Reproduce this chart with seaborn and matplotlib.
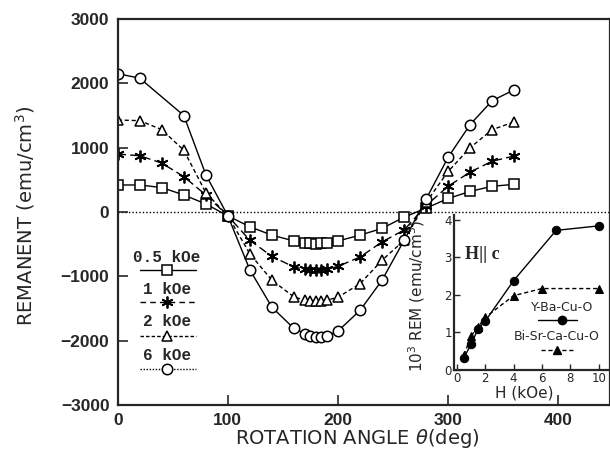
import numpy as np
import pandas as pd
import matplotlib
matplotlib.use("Agg")
import matplotlib.pyplot as plt
import seaborn as sns

# ---------------- data ----------------
angle = [0, 20, 40, 60, 80, 100, 120, 140, 160, 170, 175, 180, 185, 190,
         200, 220, 240, 260, 280, 300, 320, 340, 360]
rem_05 = [420, 420, 380, 265, 125, -60, -230, -360, -450, -480, -485, -490,
          -485, -480, -450, -360, -255, -80, 60, 210, 320, 400, 430]
rem_1 = [900, 875, 760, 550, 265, -60, -440, -690, -855, -890, -900, -905,
         -900, -890, -845, -700, -465, -280, 100, 400, 620, 790, 870]
rem_2 = [1430, 1420, 1280, 960, 300, -60, -650, -1060, -1320, -1370, -1380,
         -1385, -1380, -1370, -1325, -1115, -750, -440, 150, 630, 1000, 1280, 1400]
angle_6 = [0, 20, 60, 80, 100, 120, 140, 160, 170, 175, 180, 185, 190,
           200, 220, 240, 260, 280, 300, 320, 340, 360]
rem_6 = [2150, 2080, 1500, 580, -60, -900, -1480, -1810, -1890, -1930, -1940,
         -1940, -1930, -1850, -1530, -1060, -440, 200, 850, 1360, 1730, 1900]

field_labels = ["0.5 kOe", "1 kOe", "2 kOe", "6 kOe"]

# inset
h_ybco = [0.5, 1, 1.5, 2, 4, 7, 10]
rem_ybco = [0.33, 0.68, 1.1, 1.3, 2.38, 3.72, 3.84]
h_bscco = [0.5, 1, 1.5, 2, 4, 6, 10]
rem_bscco = [0.4, 0.9, 1.15, 1.4, 1.98, 2.17, 2.17]
inset_labels = ["Y-Ba-Cu-O", "Bi-Sr-Ca-Cu-O"]

xticks = [0, 100, 200, 300, 400]
yticks = [-3000, -2000, -1000, 0, 1000, 2000, 3000]

# ---------------- style ----------------
sns.set_style("ticks")
plt.rcParams["font.family"] = ["DejaVu Sans"]

fig = plt.figure(figsize=(6.10, 4.58), dpi=100)
ax = fig.add_axes([0.193, 0.1157, 0.807, 0.8428])

marker_common = dict(color="black", markerfacecolor="white",
                     markeredgecolor="black", linewidth=1.0)

sns.lineplot(x=angle, y=rem_05, ax=ax, marker="s", markersize=6.5,
             markeredgewidth=1.1, linestyle="-", **marker_common)
sns.lineplot(x=angle, y=rem_1, ax=ax, marker=(6, 2, 0), markersize=8.5,
             markeredgewidth=1.3, linestyle=(0, (6, 3)), **marker_common)
sns.lineplot(x=angle, y=rem_2, ax=ax, marker="^", markersize=7.5,
             markeredgewidth=1.1, linestyle=(0, (3, 2)), **marker_common)
sns.lineplot(x=angle_6, y=rem_6, ax=ax, marker="o", markersize=7.5,
             markeredgewidth=1.1, linestyle="-", **marker_common)

ax.axhline(0, color="black", linestyle=(0, (1, 1.5)), linewidth=1.0, zorder=0)

ax.set_xlim(0, 447)
ax.set_ylim(-3000, 3000)
ax.set_xticks(xticks)
ax.set_yticks(yticks)
ax.set_xticklabels([str(t) for t in xticks], fontweight="bold",
                   family="Liberation Sans", fontsize=12.5)
ax.set_yticklabels([f"{t}".replace("-", "\u2212") for t in yticks],
                   fontweight="bold", family="Liberation Sans", fontsize=12.5)
ax.tick_params(direction="in", length=7, width=1.2, pad=6)
for s in ax.spines.values():
    s.set_linewidth(1.6)

ax.set_xlabel(r"ROTATION ANGLE $\theta$(deg)", fontsize=14)
ax.set_ylabel(r"REMANENT (emu/cm$^3$)", fontsize=14)
ax.xaxis.set_label_coords(0.486, -0.058)
ax.yaxis.set_label_coords(-0.165, 0.49)

# manual legend (labels above the line samples)
leg_items = [
    (field_labels[0], 0.383, 0.350, "-", "s", 6.5, 1.1),
    (field_labels[1], 0.298, 0.268, (0, (4, 3)), (6, 2, 0), 8.5, 1.3),
    (field_labels[2], 0.216, 0.179, (0, (2.5, 1.5)), "^", 7.5, 1.1),
    (field_labels[3], 0.127, 0.0925, (0, (1, 1.2)), "o", 7.5, 1.1),
]
for lab, ty, ly, ls, mk, ms, mew in leg_items:
    ax.text(0.10, ty, lab, transform=ax.transAxes, ha="center", va="center",
            fontsize=11.5, fontweight="bold", family="Liberation Mono")
    ax.plot([0.045, 0.159], [ly, ly], transform=ax.transAxes, color="black",
            linestyle=ls, linewidth=1.0)
    ax.plot([0.10], [ly], transform=ax.transAxes, marker=mk, markersize=ms,
            markerfacecolor="white", markeredgecolor="black",
            markeredgewidth=mew, linestyle="none")

# ---------------- inset ----------------
axi = fig.add_axes([454 / 610, 1 - 370 / 458, 156 / 610, 155 / 458])
axi.set_facecolor("none")
sns.lineplot(x=h_ybco, y=rem_ybco, ax=axi, marker="o", markersize=6,
             color="black", linestyle="-", linewidth=1.0,
             markeredgecolor="black")
sns.lineplot(x=h_bscco, y=rem_bscco, ax=axi, marker="^", markersize=6,
             color="black", linestyle=(0, (3, 2)), linewidth=1.0,
             markeredgecolor="black")
axi.set_xlim(-0.2, 10.8)
axi.set_ylim(0, 4.13)
axi.set_xticks([0, 2, 4, 6, 8, 10])
axi.set_yticks([0, 1, 2, 3, 4])
axi.tick_params(direction="in", length=4, width=1.0, labelsize=8.5, pad=1.5)
axi.spines["top"].set_visible(False)
axi.spines["right"].set_visible(False)
for s in ("left", "bottom"):
    axi.spines[s].set_linewidth(1.6)
axi.set_xlabel("H (kOe)", fontsize=11)
axi.set_ylabel(r"10$^3$ REM (emu/cm$^3$)", fontsize=11)
axi.xaxis.set_label_coords(0.45, -0.1)
axi.yaxis.set_label_coords(-0.17, 0.48)

axi.text(0.6, 3.07, "H|| c", fontsize=13, fontweight="bold",
         family="Liberation Serif", ha="left", va="center")
axi.text(7.4, 1.67, inset_labels[0], fontsize=9, ha="center", va="center")
axi.plot([5.7, 8.5], [1.33, 1.33], color="black", linewidth=1.0)
axi.plot([7.4], [1.33], marker="o", markersize=6, color="black")
axi.text(7.04, 0.89, inset_labels[1], fontsize=9, ha="center", va="center")
axi.plot([5.9, 8.3], [0.52, 0.52], color="black", linewidth=1.0,
         linestyle=(0, (3, 2)))
axi.plot([7.04], [0.52], marker="^", markersize=6, color="black")

fig.savefig("out.png", dpi=100)
